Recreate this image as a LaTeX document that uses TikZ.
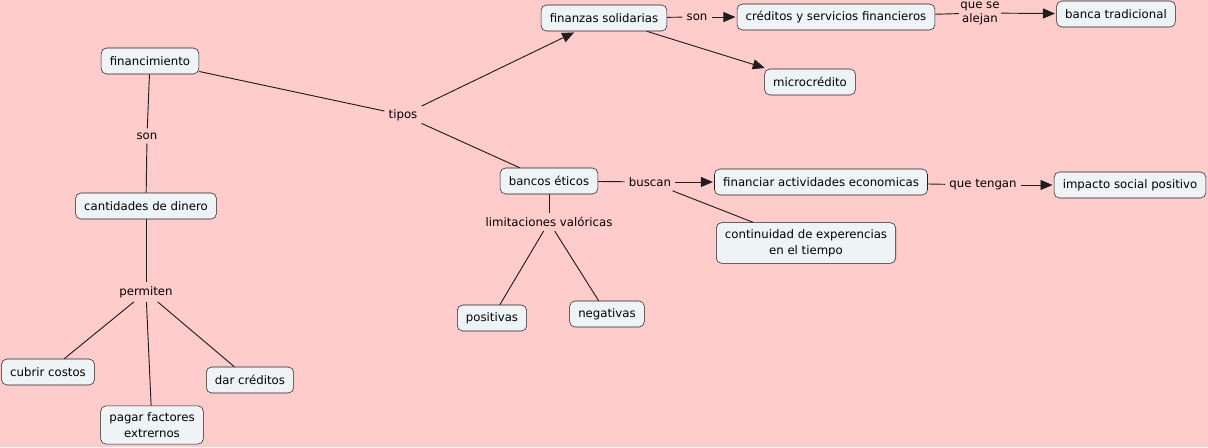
\documentclass[tikz,border=0pt]{standalone}
\usepackage{fontspec}
\setmainfont{DejaVu Sans}
\usetikzlibrary{arrows.meta}
\usepackage{xcolor}
\definecolor{fondo}{HTML}{FFCCCC}
\definecolor{caja}{HTML}{EEF4F6}
\definecolor{linea}{HTML}{1E1E1E}

\begin{document}
\begin{tikzpicture}[x=0.75pt,y=-0.75pt,>={Triangle[length=9pt,width=7.5pt]},font=\fontsize{8.8}{12}\selectfont,
  concepto/.style={draw=linea,fill=caja,rounded corners=4pt,inner xsep=6.5pt,minimum height=19.5pt,align=center},
  enlace/.style={inner sep=3pt,align=center},
  union/.style={draw=linea,line width=0.7pt}]
\fill[fondo] (0,0) rectangle (1208,447);
\node[concepto] (financ) at (150,61) {financimiento};
\node[concepto] (cantid) at (146,206) {cantidades de dinero};
\node[enlace] (son1) at (147,136) {son};
\node[enlace] (tipos) at (403,115) {tipos};
\node[enlace] (permit) at (146,292) {permiten};
\node[concepto] (cubrir) at (48,372) {cubrir costos};
\node[concepto,inner ysep=5pt] (pagar) at (152,425) {pagar factores\\extrernos};
\node[concepto] (dar) at (250,380) {dar créditos};
\node[concepto] (finsol) at (604,18) {finanzas solidarias};
\node[enlace] (son2) at (697,17) {son};
\node[concepto] (credit) at (836,17) {créditos y servicios financieros};
\node[enlace,inner sep=1pt,font=\fontsize{8.8}{10.5}\selectfont] (alejan) at (980,13) {que se\\alejan};
\node[concepto] (banca) at (1116,14) {banca tradicional};
\node[concepto] (micro) at (810,82) {microcrédito};
\node[concepto] (bancos) at (549,181) {bancos éticos};
\node[enlace] (buscan) at (650,182) {buscan};
\node[concepto] (financiar) at (821,182) {financiar actividades economicas};
\node[enlace] (tengan) at (983,185) {que tengan};
\node[concepto] (impacto) at (1130,185) {impacto social positivo};
\node[concepto,inner ysep=5pt] (contin) at (806,243) {continuidad de experencias\\en el tiempo};
\node[enlace] (limit) at (549,222) {limitaciones valóricas};
\node[concepto] (positi) at (492,318) {positivas};
\node[concepto] (negati) at (607,314) {negativas};
\draw[union] (financ) -- (son1) -- (cantid);
\draw[union] (financ) -- (tipos);
\draw[union,->,shorten >=2pt] (tipos) -- (finsol);
\draw[union] (tipos) -- (bancos);
\draw[union] (cantid) -- (permit);
\draw[union] (permit) -- (cubrir);
\draw[union] (permit) -- (pagar);
\draw[union] (permit) -- (dar);
\draw[union] (finsol) -- (son2);
\draw[union,->,shorten >=1pt] (son2) -- (credit);
\draw[union] (credit) -- (alejan);
\draw[union,->,shorten >=1pt] (alejan) -- (banca);
\draw[union,->,shorten >=2pt] (finsol) -- (micro);
\draw[union] (bancos) -- (buscan);
\draw[union,->,shorten >=1pt] (buscan) -- (financiar);
\draw[union] (buscan) -- (contin);
\draw[union] (financiar) -- (tengan);
\draw[union,->,shorten >=1pt] (tengan) -- (impacto);
\draw[union] (bancos) -- (limit);
\draw[union] (limit) -- (positi);
\draw[union] (limit) -- (negati);
\end{tikzpicture}
\end{document}
